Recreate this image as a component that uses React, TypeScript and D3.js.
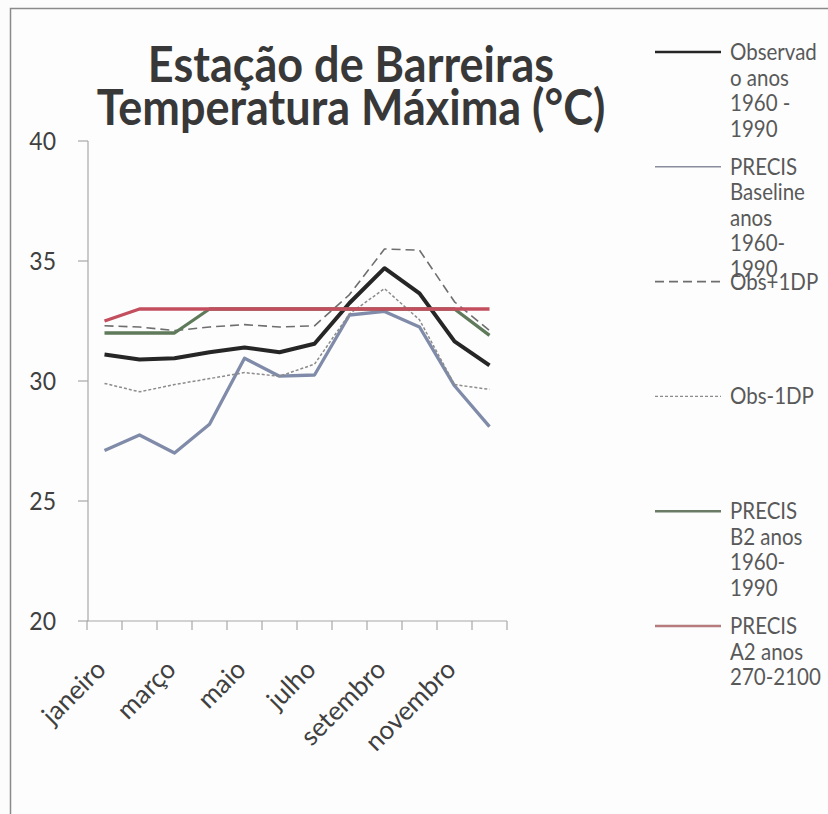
import React from "react";
import * as d3 from "d3";

// Monthly mean maximum temperature, Barreiras station (°C)
const months = [
  "janeiro", "fevereiro", "março", "abril", "maio", "junho",
  "julho", "agosto", "setembro", "outubro", "novembro", "dezembro",
];
const observado = [31.1, 30.9, 30.95, 31.2, 31.4, 31.2, 31.55, 33.25, 34.7, 33.65, 31.65, 30.65];
const precisBaseline = [27.1, 27.75, 27.0, 28.2, 30.95, 30.2, 30.25, 32.75, 32.9, 32.25, 29.8, 28.1];
const obsMais1DP = [32.3, 32.25, 32.1, 32.25, 32.35, 32.25, 32.3, 33.6, 35.5, 35.45, 33.3, 32.1];
const obsMenos1DP = [29.9, 29.55, 29.85, 30.1, 30.35, 30.2, 30.7, 32.8, 33.85, 32.55, 29.85, 29.65];
const precisB2 = [32.0, 32.0, 32.0, 33.0, 33.0, 33.0, 33.0, 33.0, 33.0, 33.0, 33.0, 31.9];
const precisA2 = [32.5, 33.0, 33.0, 33.0, 33.0, 33.0, 33.0, 33.0, 33.0, 33.0, 33.0, 33.0];

const yTicks = [20, 25, 30, 35, 40];
const titleLines = ["Estação de Barreiras", "Temperatura Máxima (°C)"];

type Series = {
  label: string[];
  values: number[];
  color: string;
  legendColor: string;
  width: number;
  legendWidth: number;
  dash?: string;
};

const series: Series[] = [
  { label: ["Observad", "o anos", "1960 -", "1990"], values: observado, color: "#262626", legendColor: "#262626", width: 4, legendWidth: 2.5 },
  { label: ["PRECIS", "Baseline", "anos", "1960-", "1990"], values: precisBaseline, color: "#7f8ba8", legendColor: "#8a8d9c", width: 3.3, legendWidth: 1.6 },
  { label: ["Obs+1DP"], values: obsMais1DP, color: "#6e6e6e", legendColor: "#6e6e6e", width: 1.6, legendWidth: 1.6, dash: "9,5" },
  { label: ["Obs-1DP"], values: obsMenos1DP, color: "#8c8c8c", legendColor: "#8c8c8c", width: 1.5, legendWidth: 1.2, dash: "3,2" },
  { label: ["PRECIS", "B2 anos", "1960-", "1990"], values: precisB2, color: "#5f7a5a", legendColor: "#6b7c66", width: 3.3, legendWidth: 2.5 },
  { label: ["PRECIS", "A2 anos", "270-2100"], values: precisA2, color: "#c24e5e", legendColor: "#b57b7d", width: 3.3, legendWidth: 2.5 },
];

const W = 828;
const H = 814;
const plot = { left: 87, right: 507, top: 141, bottom: 621 };

export default function App() {
  const x = d3.scaleBand<string>().domain(months).range([plot.left, plot.right]);
  const y = d3.scaleLinear().domain([20, 40]).range([plot.bottom, plot.top]);
  const cx = (m: string) => (x(m) as number) + x.bandwidth() / 2;

  const line = d3
    .line<number>()
    .x((_, i) => cx(months[i]))
    .y((v) => y(v));

  const tickXs = d3.range(months.length + 1).map((i) => plot.left + i * x.bandwidth());

  const legendX0 = 655;
  const legendX1 = 721;
  const legendTextX = 730;
  const legendTop = 52;
  const entryGap = 114.8;
  const lineGap = 25.5;

  return (
    <svg
      width={W}
      height={H}
      style={{ position: "absolute", left: 0, top: 0, display: "block" }}
      fontFamily="Lato, 'Open Sans', sans-serif"
    >
      <rect x={0} y={0} width={W} height={H} fill="#fcfcfc" />
      <rect x={10.5} y={8.5} width={W + 20} height={H + 20} fill="#fdfdfd" stroke="#8a8a8a" strokeWidth={1.5} />

      {/* title */}
      {titleLines.map((t, i) => (
        <text
          key={t}
          transform={`translate(351, ${82 + i * 43}) scale(1, 1.12)`}
          textAnchor="middle"
          fontSize={45}
          fontWeight={700}
          fill="#383838"
        >
          {t}
        </text>
      ))}

      {/* y axis */}
      <line x1={plot.left + 1} x2={plot.left + 1} y1={plot.top} y2={plot.bottom} stroke="#a8a8a8" strokeWidth={1.2} />
      {yTicks.map((t) => (
        <g key={t}>
          <line x1={plot.left - 9} x2={plot.left + 1} y1={y(t)} y2={y(t)} stroke="#a8a8a8" strokeWidth={1.2} />
          <text
            transform={`translate(56, ${y(t) + 8.5}) scale(1, 1.1)`}
            textAnchor="end"
            fontSize={23}
            fill="#404040"
          >
            {t}
          </text>
        </g>
      ))}

      {/* x axis */}
      <line x1={plot.left} x2={plot.right} y1={plot.bottom} y2={plot.bottom} stroke="#a8a8a8" strokeWidth={1.2} />
      {tickXs.map((tx, i) => (
        <line key={i} x1={tx} x2={tx} y1={plot.bottom} y2={plot.bottom + 9} stroke="#a8a8a8" strokeWidth={1.2} />
      ))}
      {months.map((m, i) =>
        i % 2 === 0 ? (
          <text
            key={m}
            transform={`translate(${cx(m) + 3}, ${plot.bottom + 50}) rotate(-45)`}
            textAnchor="end"
            fontSize={26}
            fill="#404040"
          >
            {m}
          </text>
        ) : null
      )}

      {/* series */}
      {series.map((s, i) => (
        <path
          key={i}
          d={line(s.values) as string}
          fill="none"
          stroke={s.color}
          strokeWidth={s.width}
          strokeDasharray={s.dash}
          strokeLinejoin="round"
        />
      ))}

      {/* legend */}
      {series.map((s, i) => {
        const ly = legendTop + i * entryGap;
        return (
          <g key={i}>
            <line x1={legendX0} x2={legendX1} y1={ly} y2={ly} stroke={s.legendColor} strokeWidth={s.legendWidth} strokeDasharray={s.dash} />
            {s.label.map((l, j) => (
              <text
                key={j}
                transform={`translate(${legendTextX}, ${ly + 8 + j * lineGap}) scale(1, 1.1)`}
                fontSize={20.5}
                fill="#595959"
              >
                {l}
              </text>
            ))}
          </g>
        );
      })}
    </svg>
  );
}
